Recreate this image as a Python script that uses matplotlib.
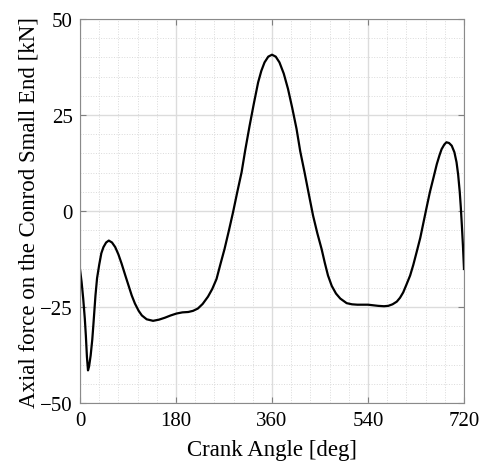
import matplotlib
matplotlib.use("Agg")
import matplotlib.pyplot as plt
from matplotlib.ticker import MultipleLocator

# crank angle [deg] and axial force [kN]
angle = [0, 3, 6, 9, 11, 13, 15, 17, 20, 23, 25, 29, 32, 36, 40, 44, 49, 54,
         60, 66, 72, 78, 85, 91, 97, 103, 110, 116, 125, 137, 148, 159, 170,
         181, 192, 203, 212, 221, 230, 240, 248, 256, 263, 271, 279, 287, 295,
         303, 310, 318, 326, 334, 340, 346, 353, 360, 367, 374, 382, 390, 398,
         406, 413, 421, 429, 437, 445, 453, 459, 465, 472, 480, 488, 500, 510,
         520, 540, 559, 570, 578, 586, 594, 600, 606, 612, 619, 625, 631, 638,
         644, 650, 656, 663, 669, 674, 678, 683, 687, 692, 697, 702, 706, 709,
         712, 714, 716, 718, 720]
force = [-15.2, -18.5, -22.8, -28.0, -32.5, -38.0, -41.5, -40.5, -37.6, -33.5,
         -29.8, -22.0, -17.5, -14.0, -11.0, -9.4, -8.2, -7.7, -8.2, -9.4,
         -11.3, -13.7, -16.8, -19.4, -22.0, -24.1, -26.0, -27.2, -28.2, -28.6,
         -28.3, -27.8, -27.2, -26.7, -26.4, -26.3, -26.0, -25.4, -24.2, -22.3,
         -20.3, -17.7, -14.0, -9.9, -5.2, -0.3, 5.0, 10.1, 16.0, 22.2, 28.0,
         33.5, 36.5, 38.7, 40.2, 40.7, 40.2, 38.7, 35.8, 31.8, 26.8, 21.4,
         15.5, 10.1, 4.4, -1.2, -5.8, -9.9, -13.5, -16.8, -19.5, -21.5, -22.8,
         -24.0, -24.3, -24.4, -24.4, -24.7, -24.8, -24.7, -24.3, -23.6, -22.6,
         -21.2, -19.2, -16.8, -14.0, -10.8, -7.0, -3.0, 1.0, 4.9, 8.8, 12.2,
         14.5, 16.1, 17.3, 17.9, 17.7, 17.0, 15.3, 12.7, 9.5, 5.0, 1.0, -3.8,
         -9.0, -15.1]

xticks = [0, 180, 360, 540, 720]
yticks = [-50, -25, 0, 25, 50]

plt.rcParams['font.family'] = ['Liberation Serif', 'DejaVu Serif']

fig = plt.figure(figsize=(4.79, 4.64), dpi=100)
ax = fig.add_axes([80 / 479, 60 / 464, 384 / 479, 384 / 464])

ax.plot(angle, force, color='black', linewidth=1.6)

ax.set_xlim(0, 720)
ax.set_ylim(-50, 50)
ax.set_xticks(xticks)
ax.set_yticks(yticks)
ax.xaxis.set_minor_locator(MultipleLocator(36))
ax.yaxis.set_minor_locator(MultipleLocator(5))

# matlab-like grid
ax.grid(which='major', color='#dcdcdc', linewidth=1.0, linestyle='-')
ax.grid(which='minor', color='#dadada', linewidth=0.7, linestyle=':')
ax.set_axisbelow(True)

ax.tick_params(which='major', direction='in', length=4, width=0.8,
               color='#7f7f7f', top=True, right=True, labelsize=15)
ax.tick_params(axis='x', pad=6)
ax.tick_params(axis='y', pad=5)
ax.tick_params(which='minor', length=0)
for s in ax.spines.values():
    s.set_color('#8a8a8a')
    s.set_linewidth(0.8)

ax.set_xlabel('Crank Angle [deg]', fontsize=16.5, labelpad=6)
ax.set_ylabel('Axial force on the Conrod Small End [kN]', fontsize=16.5, labelpad=1)

fig.savefig('out.png', dpi=100)
